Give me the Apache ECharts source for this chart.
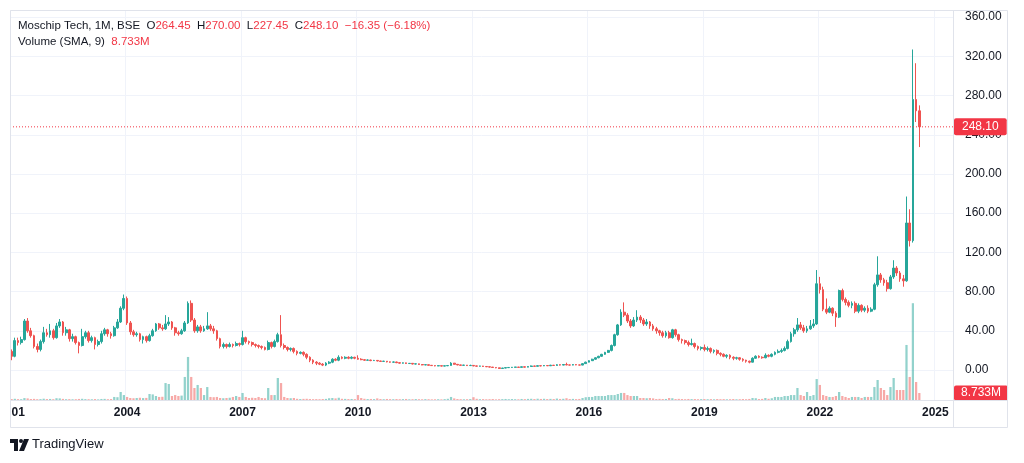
<!DOCTYPE html>
<html><head><meta charset="utf-8">
<script src="https://cdn.jsdelivr.net/npm/echarts/dist/echarts.min.js"></script>
<style>html,body{margin:0;padding:0;background:#fff}#c{width:1024px;height:463px}</style>
</head><body><div id="c"></div>
<script>
// ---- data (monthly candles, Jan 2001 .. Aug 2024) ----
const startYear = 2001;
const totalMonths = 294; // axis runs to mid-2025
const tickLabels = ['01','2004','2007','2010','2013','2016','2019','2022','2025'];

const open = [
19,14,30,28,31,50,40,35,24,21,29,38,
36,40,33,45,49,38,41,32,34,28,25,34,
38,30,33,26,29,37,41,37,35,43,49,63,
73,48,39,36,37,31,34,30,35,40,47,43,
42,47,49,43,38,37,40,48,68,51,40,44,
40,42,45,42,40,32,24,26,24,26,25,27,
26,33,29,28,26,25,24,23,21,28,24,29,
36,25,23,21,22,19,17,18,16,13,10,8,
7,6,5,7,8,11,10,13,12,13,12,13,
12,11,10.5,10,10.2,9.6,9.8,9.2,8.8,9.0,8.3,8.0,
8.2,7.5,7.0,7.3,6.6,6.8,6.1,6.3,5.6,5.2,5.4,4.8,
4.5,4.2,4.4,4.0,4.3,4.6,7.0,5.8,5.2,4.8,5.0,4.5,
4.7,4.2,3.9,4.1,3.6,3.3,3.0,2.6,2.2,1.6,2.0,2.4,
2.6,2.8,3.0,2.7,3.3,2.9,3.6,4.1,3.8,4.4,4.2,4.6,
4.3,4.9,4.6,5.4,5.0,5.6,5.2,5.0,5.5,5.2,5.0,6.5,
8.0,9.5,11,12.5,14,16,18,20,25,36,46,59,
56,50,45,51,54,51,47,49,45,42,40,38,
35,38,33,41,36,31,30,28,26,27,24,22,
23,21,22,19,20,17,16,14,15,13,12,12.5,
11,10,9,8,12,14,13,12.5,15,14,16,18,
19,20,22,29,37,41,46,43,40,42,45,47,
88,82,62,59,63,58,54,81,72,69,66,68,
60,66,61,63,60,62,87,97,92,89,83,95,
104,99,93,91,150,132,276,264.45
];
const close = [
14,30,28,31,50,40,35,24,21,29,38,36,
40,33,45,49,38,41,32,34,28,25,34,38,
30,33,26,29,37,41,37,35,43,49,63,73,
48,39,36,37,31,34,30,35,40,47,43,42,
47,49,43,38,37,40,48,68,51,40,44,40,
42,45,42,40,32,24,26,24,26,25,27,26,
33,29,28,26,25,24,23,21,28,24,29,36,
25,23,21,22,19,17,18,16,13,10,8,7,
6,5,7,8,11,10,13,12,13,12,13,12,
11,10.5,10,10.2,9.6,9.8,9.2,8.8,9.0,8.3,8.0,8.2,
7.5,7.0,7.3,6.6,6.8,6.1,6.3,5.6,5.2,5.4,4.8,4.5,
4.2,4.4,4.0,4.3,4.6,7.0,5.8,5.2,4.8,5.0,4.5,4.7,
4.2,3.9,4.1,3.6,3.3,3.0,2.6,2.2,1.6,2.0,2.4,2.6,
2.8,3.0,2.7,3.3,2.9,3.6,4.1,3.8,4.4,4.2,4.6,4.3,
4.9,4.6,5.4,5.0,5.6,5.2,5.0,5.5,5.2,5.0,6.5,8.0,
9.5,11,12.5,14,16,18,20,25,36,46,59,56,
50,45,51,54,51,47,49,45,42,40,38,35,
38,33,41,36,31,30,28,26,27,24,22,23,
21,22,19,20,17,16,14,15,13,12,12.5,11,
10,9,8,12,14,13,12.5,15,14,16,18,19,
20,22,29,37,41,46,43,40,42,45,47,88,
82,62,59,63,58,54,81,72,69,66,68,60,
66,61,63,60,62,87,97,92,89,83,95,104,
99,93,91,150,132,276,264.45,248.10
];
const low = [
10,13,25,26,30,38,33,22,18,19,27,34,
33,31,32,43,35,35,29,29,26,17,24,32,
28,28,21,24,27,35,34,32,34,42,48,61,
46,36,34,34,29,27,28,29,34,39,41,40,
41,45,41,35,35,36,39,47,49,38,38,38,
39,41,40,37,30,22,22,22,23,23,24,24,
25,27,26,24,23,22,21,20,20,22,23,28,
23,21,19,19,17,15,16,14,11,8,6,5,
5,4,4,6,7,9,9,11,11,11,11,11,
10.5,10,9.5,9.5,9,9.2,8.8,8.3,8.4,7.8,7.5,7.6,
7.0,6.5,6.6,6.2,6.2,5.7,5.8,5.2,4.8,4.9,4.4,4.1,
3.8,3.9,3.6,3.8,4.0,4.5,5.5,4.8,4.4,4.5,4.1,4.2,
3.8,3.5,3.6,3.2,3.0,2.6,2.2,1.8,1.2,1.4,1.8,2.1,
2.3,2.5,2.4,2.6,2.6,2.8,3.4,3.4,3.6,3.8,4.0,4.0,
4.1,4.2,4.4,4.6,4.8,4.8,4.6,4.8,4.9,4.7,4.9,6.2,
7.8,9.2,10.5,12,13.5,15.5,17.5,19,24,35,45,54,
48,43,44,49,48,45,45,42,40,37,35,33,
33,32,32,34,29,27,26,24,25,22,20,20,
19,19,17,17,15,14,13,12,11,10,10.5,9.5,
8.5,7.5,6.8,7.8,11.5,12,11.5,12,13,13,15,17,
17.5,19,21,28,34,39,41,38,38,41,43,46,
78,60,57,58,55,44,53,70,66,64,63,58,
58,59,59,58,59,61,85,89,86,80,82,93,
96,90,85,90,126,130,253,227.45
];
const high = [
21,33,33,34,52,53,43,36,27,31,44,42,
47,42,48,52,50,44,42,37,35,29,42,40,
40,35,34,31,40,43,42,39,45,52,65,77,
75,50,41,39,38,35,35,37,42,48,48,46,
56,54,50,44,40,42,50,70,71,53,46,46,
45,59,47,45,41,33,28,27,28,27,29,28,
40,34,30,29,27,26,25,24,30,29,31,38,
56,27,24,23,23,20,19,19,17,14,11,9,
8,7,8,9,12,12,15,14,14,14,14,13.5,
15,12,11,10.8,10.5,10.3,10,9.5,9.4,9.2,8.6,8.7,
8.5,7.8,7.6,7.5,7.1,7.0,6.6,6.5,5.8,5.7,5.5,5.0,
4.8,4.7,4.6,4.6,5.0,8.0,7.2,6.0,5.4,5.3,5.1,5.4,
5.0,4.4,4.3,4.2,3.8,3.5,3.1,2.8,2.4,2.2,2.6,2.9,
3.1,3.2,3.2,3.6,3.5,4.0,4.6,4.4,4.8,4.8,5.0,5.0,
5.3,5.2,6.0,5.8,6.0,7.5,5.6,6.0,5.8,5.5,7.0,8.5,
10,11.5,13,14.5,16.5,18.5,20.5,26,37,47,62,69,
58,52,54,61,56,53,52,50,47,44,41,40,
40,40,42,42,37,32,31,30,32,28,25,24,
26,24,23,21,21,18,17,16,16,14,13.5,13,
12,10.5,9.5,13,15,15,14,17,16,17,19,21,
22,24,31,39,43,53,49,46,45,51,52,102,
95,85,73,65,64,60,82,83,74,71,70,70,
68,67,65,66,64,89,116,99,94,92,97,112,
106,101,97,177,164,327,313,270
];
const volume = [ // millions
1.2,1.5,1.1,1.0,2.4,2.0,1.2,1.4,1.0,1.1,1.6,1.2,
1.3,1.0,2.2,2.0,1.4,1.0,1.1,0.9,1.0,1.3,1.5,1.1,
1.0,0.9,1.2,0.8,1.3,1.4,1.0,1.2,3.8,3.5,10.0,6.2,
3.8,2.5,2.2,2.5,2.8,2.4,2.6,7.5,7.0,5.0,3.8,4.0,
21.2,20.0,5.0,6.2,5.0,5.5,28.8,53.8,28.8,15.0,18.8,15.0,
6.2,16.2,3.8,3.5,3.8,2.5,2.2,2.5,2.8,3.8,5.0,3.8,
8.8,3.8,2.5,2.8,2.5,3.8,2.5,2.2,15.0,6.2,6.2,27.5,
21.2,3.8,2.5,2.2,2.5,1.5,1.2,1.4,1.5,1.2,1.0,1.1,
1.0,1.2,1.4,2.2,2.5,2.0,2.8,1.5,1.4,1.2,1.3,1.1,
6.2,2.5,1.5,1.2,1.3,1.1,2.0,1.2,1.0,1.3,1.1,1.0,
1.2,1.0,1.1,1.3,0.9,1.0,1.2,1.0,0.9,1.1,1.0,0.8,
0.9,1.0,0.8,1.1,1.5,3.8,2.0,1.2,1.0,0.9,1.0,1.2,
3.5,1.5,1.0,1.1,0.9,1.0,1.2,0.8,1.0,1.1,1.3,1.0,
1.2,1.0,0.9,1.3,1.1,1.4,1.5,1.2,1.6,1.3,1.5,1.2,
1.4,1.2,1.8,1.3,1.5,2.2,1.2,1.4,1.1,1.3,2.5,3.5,
3.8,3.8,5.0,5.0,5.0,5.0,6.2,6.2,6.2,7.5,8.8,8.8,
6.2,5.0,5.0,5.0,2.5,2.5,2.2,2.5,2.0,1.2,1.4,1.2,
1.3,2.5,2.2,1.2,1.4,1.2,1.0,1.3,1.1,1.2,1.0,1.1,
1.2,1.0,1.1,0.9,1.2,1.0,1.1,0.9,1.0,1.2,0.9,1.0,
1.2,1.0,1.3,2.5,2.2,1.2,1.4,2.5,1.5,2.2,3.8,3.8,
3.8,5.0,5.0,6.2,6.2,15.0,6.2,5.0,10.0,5.0,6.2,26.2,
18.8,6.2,5.0,3.8,3.8,5.0,10.0,5.0,3.8,2.5,3.8,3.8,
3.8,2.5,3.8,3.8,3.8,16.2,25.0,15.0,12.5,6.2,16.2,27.5,
12.5,12.5,12.5,68.8,28.8,121.0,22.5,8.733
];

// ---- chart ----
const FONT = "'Liberation Sans', Arial, sans-serif";
const UP = '#26a69a', DOWN = '#ef5350', LABEL_RED = '#f23645';
const UP_VOL = 'rgba(38,166,154,0.5)', DOWN_VOL = 'rgba(239,83,80,0.5)';

const categories = [];
for (let i = 0; i < totalMonths; i++) {
  const y = startYear + Math.floor(i / 12), m = i % 12 + 1;
  categories.push(y + '-' + (m < 10 ? '0' + m : m));
}
const candles = open.map((o, i) => [o, close[i], low[i], high[i]]);
const volData = volume.map((v, i) => ({ value: v, itemStyle: { color: close[i] >= open[i] ? UP_VOL : DOWN_VOL } }));

const n = close.length - 1;
const lastC = close[n], prevC = close[n - 1];
const chg = lastC - prevC, pct = chg / prevC * 100;
const fmt = v => v.toFixed(2);
const signed = v => (v < 0 ? '\u2212' : '+') + Math.abs(v).toFixed(2);
const legendLine1 = '{n|Moschip Tech, 1M, BSE}  {n|O}{v|' + fmt(open[n]) + '}  {n|H}{v|' + fmt(high[n]) +
  '}  {n|L}{v|' + fmt(low[n]) + '}  {n|C}{v|' + fmt(lastC) + '}  {v|' + signed(chg) + ' (' + signed(pct) + '%)}';
const legendLine2 = '{n|Volume (SMA, 9)}  {v|' + volume[n].toFixed(3) + 'M}';
const LEG = 11.5;
const legRich = { n: { fill: '#131722', fontSize: LEG, fontFamily: FONT }, v: { fill: LABEL_RED, fontSize: LEG, fontFamily: FONT } };
// horizontal last-price line spans the whole time range
const priceLine = [[-0.5, lastC], [totalMonths - 0.5, lastC]];

const chart = echarts.init(document.getElementById('c'), null, { renderer: 'canvas' });
chart.setOption({
  animation: false,
  backgroundColor: '#ffffff',
  textStyle: { fontFamily: FONT },
  grid: [
    { left: 10, right: 71, top: 10, bottom: 63 },
    { left: 10, right: 71, top: 280, bottom: 63 }
  ],
  xAxis: [
    { type: 'category', gridIndex: 0, data: categories, boundaryGap: true,
      axisLine: { show: false }, axisTick: { show: false }, axisLabel: { show: false },
      splitLine: { show: true, interval: (i) => i % 36 === 0, lineStyle: { color: '#f0f3fa' } } },
    { type: 'category', gridIndex: 1, data: categories, boundaryGap: true,
      axisLine: { show: false }, axisTick: { show: false }, splitLine: { show: false },
      axisLabel: { show: true, interval: (i) => i % 36 === 0, formatter: (v, i) => tickLabels[Math.round(i / 36)],
        margin: 7, color: '#131722', fontSize: 12, fontWeight: 'bold', fontFamily: FONT, alignMinLabel: 'left' } },
    { type: 'value', gridIndex: 0, min: -0.5, max: totalMonths - 0.5, show: false, splitLine: { show: false } }
  ],
  yAxis: [
    { type: 'value', gridIndex: 0, position: 'right', min: -30.6, max: 367.3, minInterval: 40, maxInterval: 40,
      axisLine: { show: false }, axisTick: { show: false },
      axisLabel: { margin: 12, color: '#131722', fontSize: 12, fontFamily: FONT,
        formatter: v => (v >= 0 && v <= 360 && Math.abs(v / 40 - Math.round(v / 40)) < 1e-6) ? v.toFixed(2) : '' },
      splitLine: { show: true, lineStyle: { color: '#f0f3fa' } } },
    { type: 'value', gridIndex: 1, min: 0, max: 150, show: false, splitLine: { show: false } }
  ],
  series: [
    { type: 'bar', xAxisIndex: 1, yAxisIndex: 1, data: volData, barWidth: '70%', z: 1,
      markLine: { silent: true, symbol: ['none', 'none'], animation: false,
        lineStyle: { color: 'rgba(0,0,0,0)', width: 0 },
        label: { show: true, position: 'end', distance: 1, formatter: volume[n].toFixed(3) + 'M', color: '#ffffff',
          backgroundColor: LABEL_RED, padding: [2, 7, 1, 7], fontSize: 12, fontFamily: FONT, borderRadius: 2 },
        data: [{ yAxis: volume[n] }] } },
    { type: 'candlestick', xAxisIndex: 0, yAxisIndex: 0, data: candles, barWidth: '70%', z: 3,
      itemStyle: { color: UP, color0: DOWN, borderColor: UP, borderColor0: DOWN, borderWidth: 1 } },
    { type: 'line', xAxisIndex: 2, yAxisIndex: 0, data: priceLine, silent: true, z: 4,
      showSymbol: false, symbol: 'none', color: LABEL_RED,
      lineStyle: { color: LABEL_RED, width: 1, type: [1, 2] },
      endLabel: { show: true, distance: 1, formatter: fmt(lastC), color: '#ffffff',
        backgroundColor: LABEL_RED, padding: [3, 8, 2, 8], fontSize: 12, fontFamily: FONT, borderRadius: 2 } }
  ],
  graphic: [
    { type: 'rect', z: 50, silent: true, shape: { x: 10.5, y: 10.5, width: 997, height: 417 },
      style: { fill: 'none', stroke: '#e0e3eb', lineWidth: 1 } },
    { type: 'line', z: 50, silent: true, shape: { x1: 953.5, y1: 10, x2: 953.5, y2: 428 },
      style: { stroke: '#e0e3eb', lineWidth: 1 } },
    { type: 'line', z: 50, silent: true, shape: { x1: 10, y1: 400.5, x2: 1008, y2: 400.5 },
      style: { stroke: '#e0e3eb', lineWidth: 1 } },
    { type: 'text', z: 60, left: 18, top: 20, silent: true,
      style: { text: legendLine1, font: LEG + 'px ' + FONT, rich: legRich } },
    { type: 'text', z: 60, left: 18, top: 36, silent: true,
      style: { text: legendLine2, font: LEG + 'px ' + FONT, rich: legRich } },
    { type: 'group', silent: true, children: [
      { type: 'rect', shape: { x: 10, y: 439, width: 8, height: 4 }, style: { fill: '#131722' } },
      { type: 'rect', shape: { x: 14, y: 439, width: 4, height: 12 }, style: { fill: '#131722' } },
      { type: 'circle', shape: { cx: 21, cy: 441, r: 2 }, style: { fill: '#131722' } },
      { type: 'polygon', shape: { points: [[24, 439], [29, 439], [24, 451], [19, 451]] }, style: { fill: '#131722' } }
    ] },
    { type: 'text', left: 32, top: 438, silent: true,
      style: { text: 'TradingView', font: '13px ' + FONT, fill: '#131722' } }
  ]
});
</script>
</body></html>
